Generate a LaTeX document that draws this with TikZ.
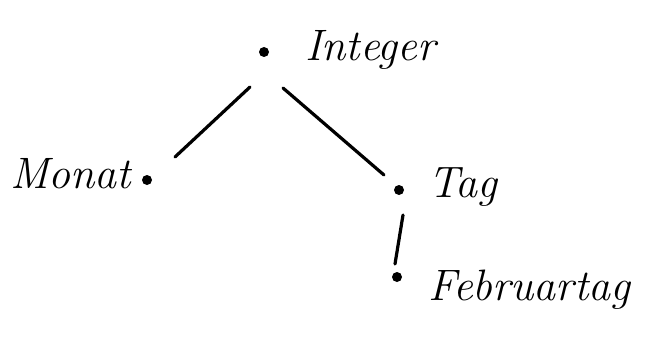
\documentclass[tikz,border=0pt]{standalone}
\usetikzlibrary{calc}
\begin{document}
\begin{tikzpicture}[x=1pt,y=1pt,
  dot/.style={circle,fill=black,inner sep=0pt,minimum size=10pt},
  lbl/.style={font=\fontsize{44}{48}\selectfont\itshape,inner sep=0pt},
  edge/.style={line width=3.2pt,line cap=round}]
\useasboundingbox (0,0) rectangle (647,-337);
\node[dot] (int) at (264,-52) {};
\node[dot] (mon) at (147,-180) {};
\node[dot] (tag) at (399,-190) {};
\node[dot] (feb) at (397,-277) {};
\node[lbl,anchor=base west] (tint) at (305,-60) {Integer};
\node[lbl,anchor=base west] (tmon) at (10,-188) {Monat};
\node[lbl,anchor=base west] (ttag) at (428,-197) {Tag};
\node[lbl,anchor=base west] (tfeb) at (428,-300) {Februartag};
\draw[edge] ([shift={(-14,-35)}]int.center) -- ([shift={(28,23)}]mon.center);
\draw[edge] ([shift={(19,-36)}]int.center) -- ([shift={(-15,15)}]tag.center);
\draw[edge] ([shift={(4,-25)}]tag.center) -- ([shift={(-2,13)}]feb.center);
\end{tikzpicture}
\end{document}
